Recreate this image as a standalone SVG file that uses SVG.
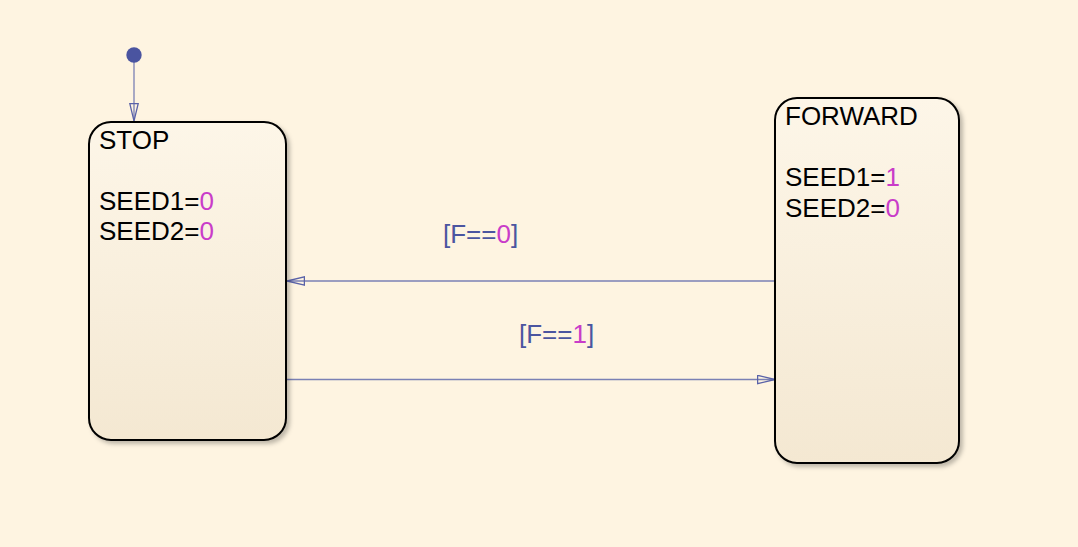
<svg xmlns="http://www.w3.org/2000/svg" width="1078" height="547" viewBox="0 0 1078 547">
  <defs>
    <linearGradient id="boxFill" x1="0" y1="0" x2="0" y2="1">
      <stop offset="0" stop-color="#FDF6E8"/>
      <stop offset="1" stop-color="#F4E8D2"/>
    </linearGradient>
    <filter id="shadow" x="-10%" y="-10%" width="125%" height="125%">
      <feDropShadow dx="3" dy="3" stdDeviation="2" flood-color="#000000" flood-opacity="0.25"/>
    </filter>
    <marker id="openArrow" viewBox="0 0 18 10" refX="18" refY="5" markerWidth="18" markerHeight="10" markerUnits="userSpaceOnUse" orient="auto">
      <path d="M0.6,0.8 L18,5 L0.6,9.2 Z" fill="none" stroke="#5A62A8" stroke-width="1.3"/>
    </marker>
  </defs>
  <style>
    .state { fill: url(#boxFill); stroke: #000000; stroke-width: 2; filter: url(#shadow); }
    .txt { font-family: "Liberation Sans", Arial, sans-serif; font-size: 26px; fill: #000000; }
    .num { fill: #C93CC9; }
    .lbl { font-family: "Liberation Sans", Arial, sans-serif; font-size: 26px; fill: #4B55A0; }
    .conn { stroke: #7A80B4; stroke-width: 1.3; fill: none; marker-end: url(#openArrow); }
  </style>
  <rect x="0" y="0" width="1078" height="547" fill="#FEF4E1"/>

  <g id="connectors">
    <line class="conn" x1="134" y1="62" x2="134" y2="121"/>
    <line class="conn" x1="775" y1="281" x2="287" y2="281"/>
    <line class="conn" x1="287" y1="379.5" x2="775" y2="379.5"/>
    <text class="lbl" x="443" y="243">[F==<tspan class="num">0</tspan>]</text>
    <text class="lbl" x="519" y="343">[F==<tspan class="num">1</tspan>]</text>
  </g>

  <g id="initial">
    <circle cx="134" cy="55" r="7.7" fill="#4A54A0"/>
  </g>

  <g id="STOP">
    <rect class="state" x="89" y="122" width="197" height="318" rx="22" ry="22"/>
    <text class="txt" x="99" y="148.5">STOP</text>
    <text class="txt" x="99" y="210">SEED1=<tspan class="num">0</tspan></text>
    <text class="txt" x="99" y="240">SEED2=<tspan class="num">0</tspan></text>
  </g>

  <g id="FORWARD">
    <rect class="state" x="775" y="98" width="184" height="365" rx="22" ry="22"/>
    <text class="txt" x="785" y="124.5">FORWARD</text>
    <text class="txt" x="785" y="186">SEED1=<tspan class="num">1</tspan></text>
    <text class="txt" x="785" y="216.5">SEED2=<tspan class="num">0</tspan></text>
  </g>
</svg>
